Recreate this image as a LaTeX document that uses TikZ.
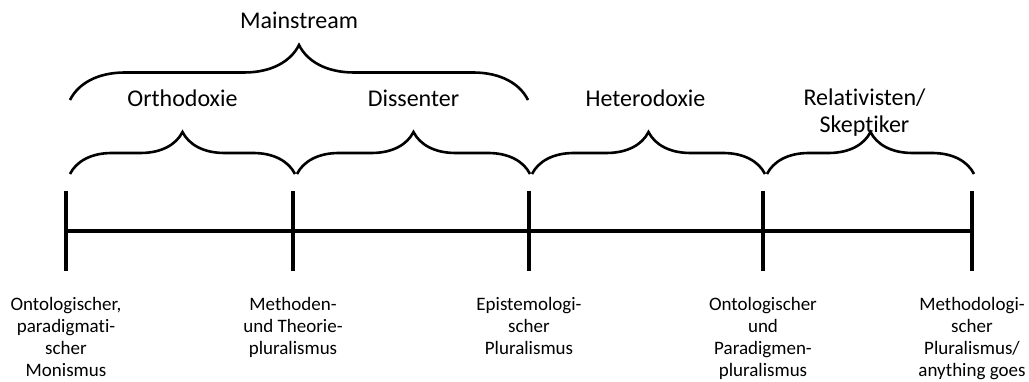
\documentclass[tikz,border=0pt]{standalone}
\usepackage{fontspec}
\setmainfont{Carlito}[Ligatures=NoCommon]
\usetikzlibrary{positioning,decorations.pathreplacing}

\begin{document}
\begin{tikzpicture}[
    x=1pt, y=1pt,
    axis/.style={line width=4pt},
    curly/.style={decorate, line width=2.6pt, decoration={brace, amplitude=#1}},
    curly/.default=42,
    school/.style={font=\fontsize{24}{27}\selectfont, align=center, inner sep=0pt},
    stance/.style={font=\fontsize{19}{22}\selectfont, align=center, inner sep=0pt},
  ]
  \useasboundingbox (0,0) rectangle (1029,382);
  % scale with its ticks
  \foreach \name/\x in {a/66, b/293, c/529, d/763, e/972} {
    \coordinate (\name) at (\x,151);
    \draw[axis] ([yshift=40pt]\name) -- ([yshift=-40pt]\name);
  }
  \draw[axis] (a) -- (e);
  % braces over the scale
  \draw[curly] ([xshift=4pt,yshift=57pt]a) -- ([xshift=2pt,yshift=57pt]b)
    node[school, midway, yshift=76pt] (orth) {Orthodoxie};
  \draw[curly] ([xshift=4pt,yshift=57pt]b) -- ([xshift=1pt,yshift=57pt]c)
    node[school, midway, yshift=76pt] (diss) {Dissenter};
  \draw[curly] ([xshift=3pt,yshift=57pt]c) -- ([xshift=2pt,yshift=57pt]d)
    node[school, midway, yshift=76pt, xshift=-3pt] (het) {Heterodoxie};
  \draw[curly] ([xshift=4pt,yshift=57pt]d) -- ([xshift=2pt,yshift=57pt]e)
    node[school, midway, yshift=61pt, xshift=-6pt] (rel) {Relativisten/\\Skeptiker};
  \draw[curly=55] ([xshift=4pt,yshift=131pt]a) -- ([xshift=-1pt,yshift=131pt]c)
    node[school, midway, yshift=80pt] (main) {Mainstream};
  % positions below the scale
  \node[stance, below=66pt of a] (la) {Ontologischer,\\paradigmati-\\scher\\Monismus};
  \node[stance, below=66pt of b] (lb) {Methoden-\\und Theorie-\\pluralismus};
  \node[stance, below=66pt of c] (lc) {Epistemologi-\\scher\\Pluralismus};
  \node[stance, below=66pt of d] (ld) {Ontologischer\\und\\Paradigmen-\\pluralismus};
  \node[stance, below=66pt of e] (le) {Methodologi-\\scher\\Pluralismus/\\anything goes};
\end{tikzpicture}
\end{document}
